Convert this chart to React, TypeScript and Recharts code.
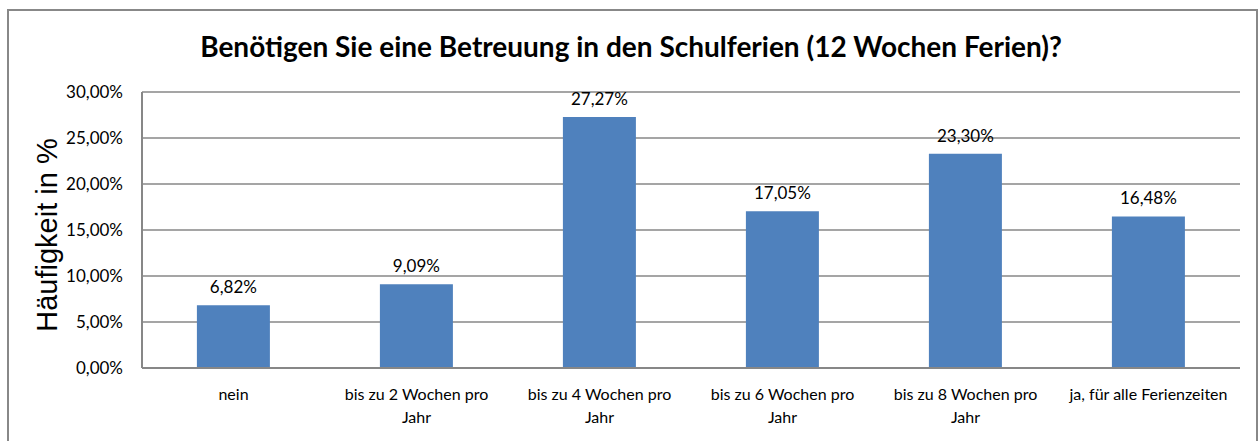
import React from 'react';
import { BarChart, Bar, XAxis, YAxis, CartesianGrid, LabelList, Customized } from 'recharts';

const categories = [
  'nein',
  'bis zu 2 Wochen pro Jahr',
  'bis zu 4 Wochen pro Jahr',
  'bis zu 6 Wochen pro Jahr',
  'bis zu 8 Wochen pro Jahr',
  'ja, für alle Ferienzeiten',
];
const tickLines = [
  ['nein'],
  ['bis zu 2 Wochen pro', 'Jahr'],
  ['bis zu 4 Wochen pro', 'Jahr'],
  ['bis zu 6 Wochen pro', 'Jahr'],
  ['bis zu 8 Wochen pro', 'Jahr'],
  ['ja, für alle Ferienzeiten'],
];
const values = [0.0682, 0.0909, 0.2727, 0.1705, 0.233, 0.1648];
const yTicks = [0, 0.05, 0.1, 0.15, 0.2, 0.25, 0.3];
const title = 'Benötigen Sie eine Betreuung in den Schulferien (12 Wochen Ferien)?';
const yLabel = 'Häufigkeit in %';

const data = categories.map((c, i) => ({ name: c, value: values[i], idx: i }));

const fmt = (v: number) => (v * 100).toFixed(2).replace('.', ',') + '%';

const FONT = 'Lato, "Open Sans", sans-serif';

const XTick = (props: any) => {
  const { x, y, index } = props;
  const lines = tickLines[index] || [String(props.payload?.value)];
  return (
    <text x={x} y={y} textAnchor="middle" fontFamily={FONT} fontSize={16} fill="#000">
      {lines.map((l: string, i: number) => (
        <tspan key={i} x={x} dy={i === 0 ? 32 : 23}>
          {l}
        </tspan>
      ))}
    </text>
  );
};

const YLabel = (props: any) => {
  const vb = props.viewBox || { x: 0, y: 0, width: 0, height: 0 };
  const cx = vb.x + 47;
  const cy = vb.y + vb.height / 2 + 5;
  return (
    <text
      x={cx}
      y={cy}
      transform={`rotate(-90 ${cx} ${cy})`}
      textAnchor="middle"
      dominantBaseline="central"
      fontFamily='"Liberation Sans", Arial, sans-serif'
      fontSize={29}
      fill="#000"
    >
      {yLabel}
    </text>
  );
};

const Title = () => (
  <text x={631} y={57} textAnchor="middle" fontFamily={FONT} fontWeight="bold" fontSize={28} fill="#000">
    {title}
  </text>
);

export default function App() {
  return (
    <div style={{ position: 'absolute', left: 0, top: 0, width: 1260, height: 441, background: '#fff', overflow: 'hidden' }}>
      <div
        style={{
          position: 'absolute',
          left: 7,
          top: 9,
          width: 1251,
          height: 460,
          border: '2px solid #888',
          boxSizing: 'border-box',
        }}
      />
      <div style={{ position: 'absolute', left: 0, top: 0 }}>
        <BarChart
          width={1260}
          height={441}
          data={data}
          margin={{ top: 92, right: 20, bottom: 0, left: 0 }}
          barCategoryGap="30%"
        >
          <CartesianGrid vertical={false} stroke="#878787" strokeWidth={1.5} />
          <XAxis
            dataKey="name"
            height={73}
            axisLine={{ stroke: '#878787', strokeWidth: 2 }}
            tickLine={false}
            tickSize={0}
            tickMargin={0}
            interval={0}
            tick={<XTick />}
          />
          <YAxis
            width={142}
            domain={[0, 0.3]}
            ticks={yTicks}
            tickFormatter={fmt}
            axisLine={{ stroke: '#878787', strokeWidth: 2 }}
            tickLine={false}
            tickSize={0}
            tickMargin={19}
            tick={{ fontFamily: FONT, fontSize: 17, fill: '#000' }}
            label={<YLabel />}
          />
          <Bar dataKey="value" fill="#4F81BD" isAnimationActive={false}>
            <LabelList
              dataKey="value"
              position="top"
              offset={12}
              formatter={(v: any) => fmt(Number(v))}
              style={{ fontFamily: FONT, fontSize: 17, fill: '#000' }}
            />
          </Bar>
          <Customized component={Title} />
        </BarChart>
      </div>
    </div>
  );
}
